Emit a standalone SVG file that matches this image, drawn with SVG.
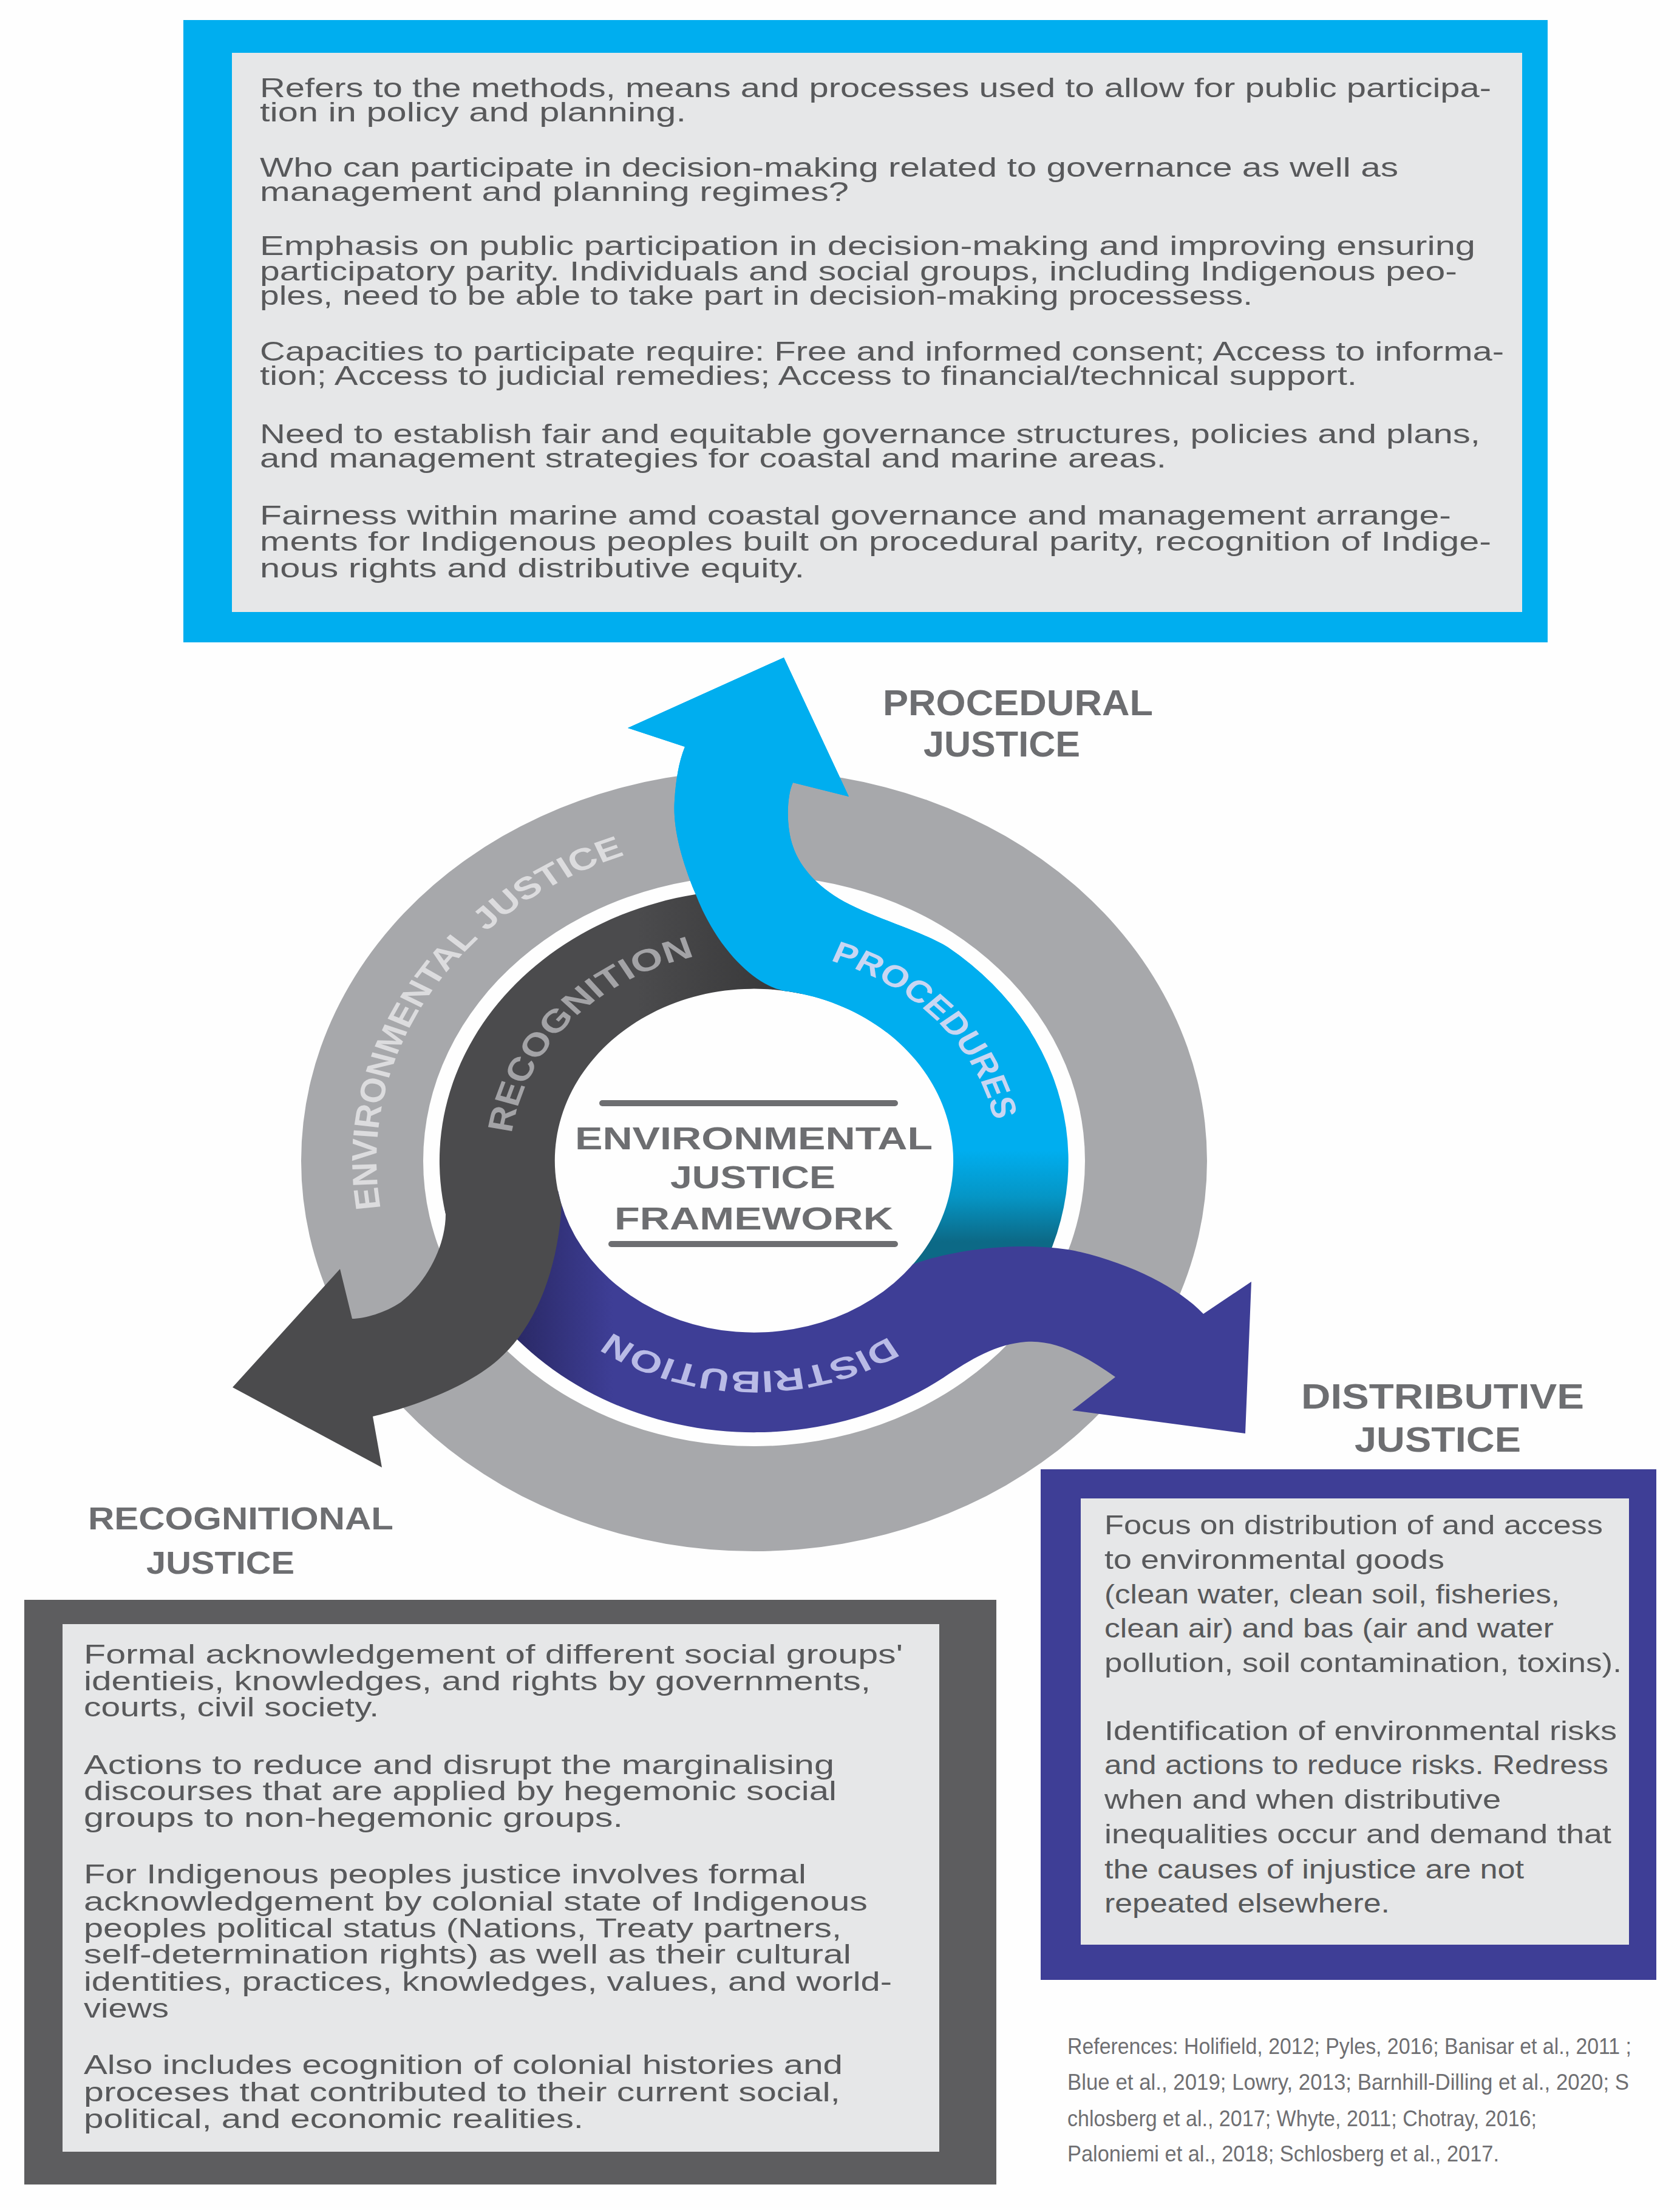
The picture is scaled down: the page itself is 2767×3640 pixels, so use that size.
<svg xmlns="http://www.w3.org/2000/svg" xmlns:xlink="http://www.w3.org/1999/xlink" width="2767" height="3640" viewBox="0 0 2767 3640">
<style>
.body{font-family:"Liberation Sans",Arial,sans-serif;font-size:44px;fill:#58595b}
.ref{font-family:"Liberation Sans",Arial,sans-serif;font-size:37px;fill:#6f6f72}
.head{font-family:"Liberation Sans",Arial,sans-serif;font-weight:bold;fill:#6d6e71}
.arc{font-family:"Liberation Sans",Arial,sans-serif;font-weight:bold;font-size:50px}
.inner{fill:#e6e7e8}
</style>
<defs>
<linearGradient id="gBlue" gradientUnits="userSpaceOnUse" x1="0" y1="1895" x2="0" y2="2045">
<stop offset="0" stop-color="#00aeef"/><stop offset="0.5" stop-color="#0596c6"/><stop offset="1" stop-color="#0c6986"/>
</linearGradient>
<linearGradient id="gIndigo" gradientUnits="userSpaceOnUse" x1="850" y1="0" x2="1010" y2="0">
<stop offset="0" stop-color="#2a2966"/><stop offset="1" stop-color="#3e3e96"/>
</linearGradient>
<linearGradient id="gDark" gradientUnits="userSpaceOnUse" x1="1050" y1="0" x2="1320" y2="0">
<stop offset="0" stop-color="#4b4b4d"/><stop offset="1" stop-color="#353536"/>
</linearGradient>
<clipPath id="clipTop"><rect x="900" y="1000" width="900" height="700"/></clipPath>
<path id="pBlue" d="M 1291 1083 L 1398 1312 L 1306 1289 C 1296 1310 1294 1360 1306 1394 C 1318 1430 1350 1465 1400 1490 C 1450 1515 1520 1535 1561 1560 A 518 447 0 0 1 1650 2187 L 1500.5 2086 A 328 283 0 0 0 1299 1633 C 1255 1630 1185 1575 1145 1471 C 1120 1410 1108 1360 1111 1318 C 1113 1285 1118 1255 1128 1230 L 1034 1199 Z"/>
<path id="envPath" d="M -524.3 111.4 A 536 536 0 0 1 -111.4 -524.3"/>
<path id="recPath" d="M -346.5 -18.2 A 347 347 0 0 1 -48.3 -343.6"/>
<path id="procPath" d="M 83.9 -336.7 A 347 347 0 0 1 345.7 -30.2"/>
<path id="distPath" d="M 213.6 273.4 A 347 347 0 0 1 -223.0 265.8"/>
</defs>
<rect x="0" y="0" width="2767" height="3640" fill="#fefefe"/>

<g id="box-procedural">
<rect x="302" y="33" width="2247" height="1025" fill="#00aeef"/>
<rect class="inner" x="382" y="87" width="2125" height="921"/>
<text class="body"><tspan x="428" y="160" textLength="2028" lengthAdjust="spacingAndGlyphs">Refers to the methods, means and processes used to allow for public participa-</tspan><tspan x="428" y="200" textLength="702" lengthAdjust="spacingAndGlyphs">tion in policy and planning.</tspan><tspan x="428" y="291" textLength="1875" lengthAdjust="spacingAndGlyphs">Who can participate in decision-making related to governance as well as</tspan><tspan x="428" y="331" textLength="970" lengthAdjust="spacingAndGlyphs">management and planning regimes?</tspan><tspan x="428" y="420" textLength="2002" lengthAdjust="spacingAndGlyphs">Emphasis on public participation in decision-making and improving ensuring</tspan><tspan x="428" y="462" textLength="1972" lengthAdjust="spacingAndGlyphs">participatory parity. Individuals and social groups, including Indigenous peo-</tspan><tspan x="428" y="502" textLength="1635" lengthAdjust="spacingAndGlyphs">ples, need to be able to take part in decision-making processess.</tspan><tspan x="428" y="594" textLength="2049" lengthAdjust="spacingAndGlyphs">Capacities to participate require: Free and informed consent; Access to informa-</tspan><tspan x="428" y="634" textLength="1807" lengthAdjust="spacingAndGlyphs">tion; Access to judicial remedies; Access to financial/technical support.</tspan><tspan x="428" y="730" textLength="2010" lengthAdjust="spacingAndGlyphs">Need to establish fair and equitable governance structures, policies and plans,</tspan><tspan x="428" y="770" textLength="1493" lengthAdjust="spacingAndGlyphs">and management strategies for coastal and marine areas.</tspan><tspan x="428" y="864" textLength="1962" lengthAdjust="spacingAndGlyphs">Fairness within marine amd coastal governance and management arrange-</tspan><tspan x="428" y="907" textLength="2028" lengthAdjust="spacingAndGlyphs">ments for Indigenous peoples built on procedural parity, recognition of Indige-</tspan><tspan x="428" y="951" textLength="897" lengthAdjust="spacingAndGlyphs">nous rights and distributive equity.</tspan></text>
</g>

<g id="ring">
<path fill="#a7a8ab" fill-rule="evenodd" d="M 496 1912 A 746 643 0 1 0 1988 1912 A 746 643 0 1 0 496 1912 Z M 697 1912 A 545 470 0 1 0 1787 1912 A 545 470 0 1 0 697 1912 Z"/>
</g>

<g id="connectors">
<use id="arrow-procedures" href="#pBlue" xlink:href="#pBlue" fill="url(#gBlue)"/>
<path id="arrow-distribution" fill="url(#gIndigo)" d="M 732 1990 A 518 447 0 0 0 1554 2269 C 1600 2238 1640 2214 1690 2210 C 1740 2206 1790 2235 1837 2268 L 1766 2323 L 2051 2361 L 2061 2111 L 1982 2164 C 1940 2120 1860 2080 1770 2060 C 1690 2045 1580 2055 1504 2082 A 328 283 0 0 1 919 1961 Z"/>
<path id="arrow-recognition" fill="url(#gDark)" d="M 1332 1472 A 518 447 0 0 0 734 2000 C 734 2050 705 2110 660 2145 C 635 2162 600 2172 580 2172 L 560 2090 L 383 2285 L 629 2417 L 614 2333 C 660 2322 760 2292 820 2240 C 878 2190 918 2100 925 1985 A 328 283 0 0 1 1321 1637 Z"/>
<use id="arrow-procedures-top" href="#pBlue" xlink:href="#pBlue" fill="#00aeef" clip-path="url(#clipTop)"/>
</g>

<g id="arc-labels" transform="translate(1242 1912) scale(1.16 1)">
<text class="arc" font-size="54" fill="#dcdcde"><textPath href="#envPath" xlink:href="#envPath" startOffset="33" textLength="734" lengthAdjust="spacingAndGlyphs">ENVIRONMENTAL JUSTICE</textPath></text>
<text class="arc" fill="#a3a3a6"><textPath href="#recPath" xlink:href="#recPath" startOffset="27" textLength="415" lengthAdjust="spacingAndGlyphs">RECOGNITION</textPath></text>
<text class="arc" fill="#c9d6f2"><textPath href="#procPath" xlink:href="#procPath" startOffset="25" textLength="368" lengthAdjust="spacingAndGlyphs">PROCEDURES</textPath></text>
<text class="arc" fill="#b9bbe6"><textPath href="#distPath" xlink:href="#distPath" startOffset="27" textLength="419" lengthAdjust="spacingAndGlyphs">DISTRIBUTION</textPath></text>
</g>

<g id="center">
<line x1="992" y1="1817" x2="1474" y2="1817" stroke="#6d6e71" stroke-width="10" stroke-linecap="round"/>
<text class="head" font-size="51" x="947" y="1893" textLength="589" lengthAdjust="spacingAndGlyphs">ENVIRONMENTAL</text>
<text class="head" font-size="51" x="1104" y="1957" textLength="272" lengthAdjust="spacingAndGlyphs">JUSTICE</text>
<text class="head" font-size="51" x="1012" y="2025" textLength="459" lengthAdjust="spacingAndGlyphs">FRAMEWORK</text>
<line x1="1007" y1="2049" x2="1474" y2="2049" stroke="#6d6e71" stroke-width="10" stroke-linecap="round"/>
</g>

<g id="heading-procedural">
<text class="head" font-size="60" x="1454" y="1178" textLength="445" lengthAdjust="spacingAndGlyphs">PROCEDURAL</text>
<text class="head" font-size="60" x="1521" y="1246" textLength="258" lengthAdjust="spacingAndGlyphs">JUSTICE</text>
</g>

<g id="heading-distributive">
<text class="head" font-size="57" x="2143" y="2320" textLength="466" lengthAdjust="spacingAndGlyphs">DISTRIBUTIVE</text>
<text class="head" font-size="57" x="2231" y="2391" textLength="274" lengthAdjust="spacingAndGlyphs">JUSTICE</text>
</g>

<g id="heading-recognitional">
<text class="head" font-size="52" x="145" y="2519" textLength="503" lengthAdjust="spacingAndGlyphs">RECOGNITIONAL</text>
<text class="head" font-size="52" x="241" y="2592" textLength="244" lengthAdjust="spacingAndGlyphs">JUSTICE</text>
</g>

<g id="box-distributive">
<rect x="1714" y="2420" width="1014" height="841" fill="#3e3e96"/>
<rect class="inner" x="1780" y="2468" width="903" height="735"/>
<text class="body"><tspan x="1819" y="2527" textLength="821" lengthAdjust="spacingAndGlyphs">Focus on distribution of and access</tspan><tspan x="1819" y="2584" textLength="560" lengthAdjust="spacingAndGlyphs">to environmental goods</tspan><tspan x="1819" y="2641" textLength="750" lengthAdjust="spacingAndGlyphs">(clean water, clean soil, fisheries,</tspan><tspan x="1819" y="2697" textLength="740" lengthAdjust="spacingAndGlyphs">clean air) and bas (air and water</tspan><tspan x="1819" y="2754" textLength="852" lengthAdjust="spacingAndGlyphs">pollution, soil contamination, toxins).</tspan><tspan x="1819" y="2866" textLength="844" lengthAdjust="spacingAndGlyphs">Identification of environmental risks</tspan><tspan x="1819" y="2922" textLength="830" lengthAdjust="spacingAndGlyphs">and actions to reduce risks. Redress</tspan><tspan x="1819" y="2979" textLength="653" lengthAdjust="spacingAndGlyphs">when and when distributive</tspan><tspan x="1819" y="3036" textLength="835" lengthAdjust="spacingAndGlyphs">inequalities occur and demand that</tspan><tspan x="1819" y="3094" textLength="691" lengthAdjust="spacingAndGlyphs">the causes of injustice are not</tspan><tspan x="1819" y="3150" textLength="470" lengthAdjust="spacingAndGlyphs">repeated elsewhere.</tspan></text>
</g>

<g id="box-recognitional">
<rect x="40" y="2635" width="1601" height="963" fill="#5d5d5f"/>
<rect class="inner" x="103" y="2675" width="1444" height="869"/>
<text class="body"><tspan x="138" y="2740" textLength="1349" lengthAdjust="spacingAndGlyphs">Formal acknowledgement of different social groups'</tspan><tspan x="138" y="2784" textLength="1296" lengthAdjust="spacingAndGlyphs">identieis, knowledges, and rights by governments,</tspan><tspan x="138" y="2827" textLength="486" lengthAdjust="spacingAndGlyphs">courts, civil society.</tspan><tspan x="138" y="2922" textLength="1236" lengthAdjust="spacingAndGlyphs">Actions to reduce and disrupt the marginalising</tspan><tspan x="138" y="2965" textLength="1240" lengthAdjust="spacingAndGlyphs">discourses that are applied by hegemonic social</tspan><tspan x="138" y="3009" textLength="888" lengthAdjust="spacingAndGlyphs">groups to non-hegemonic groups.</tspan><tspan x="138" y="3102" textLength="1190" lengthAdjust="spacingAndGlyphs">For Indigenous peoples justice involves formal</tspan><tspan x="138" y="3147" textLength="1291" lengthAdjust="spacingAndGlyphs">acknowledgement by colonial state of Indigenous</tspan><tspan x="138" y="3191" textLength="1248" lengthAdjust="spacingAndGlyphs">peoples political status (Nations, Treaty partners,</tspan><tspan x="138" y="3234" textLength="1264" lengthAdjust="spacingAndGlyphs">self-determination rights) as well as their cultural</tspan><tspan x="138" y="3279" textLength="1331" lengthAdjust="spacingAndGlyphs">identities, practices, knowledges, values, and world-</tspan><tspan x="138" y="3323" textLength="140" lengthAdjust="spacingAndGlyphs">views</tspan><tspan x="138" y="3416" textLength="1250" lengthAdjust="spacingAndGlyphs">Also includes ecognition of colonial histories and</tspan><tspan x="138" y="3461" textLength="1246" lengthAdjust="spacingAndGlyphs">proceses that contributed to their current social,</tspan><tspan x="138" y="3505" textLength="823" lengthAdjust="spacingAndGlyphs">political, and economic realities.</tspan></text>
</g>

<g id="references">
<text class="ref"><tspan x="1758" y="3383" textLength="929" lengthAdjust="spacingAndGlyphs">References: Holifield, 2012; Pyles, 2016; Banisar et al., 2011 ;</tspan><tspan x="1758" y="3442" textLength="925" lengthAdjust="spacingAndGlyphs">Blue et al., 2019; Lowry, 2013; Barnhill-Dilling et al., 2020; S</tspan><tspan x="1758" y="3502" textLength="773" lengthAdjust="spacingAndGlyphs">chlosberg et al., 2017; Whyte, 2011; Chotray, 2016;</tspan><tspan x="1758" y="3560" textLength="711" lengthAdjust="spacingAndGlyphs">Paloniemi et al., 2018; Schlosberg et al., 2017.</tspan></text>
</g>
</svg>
